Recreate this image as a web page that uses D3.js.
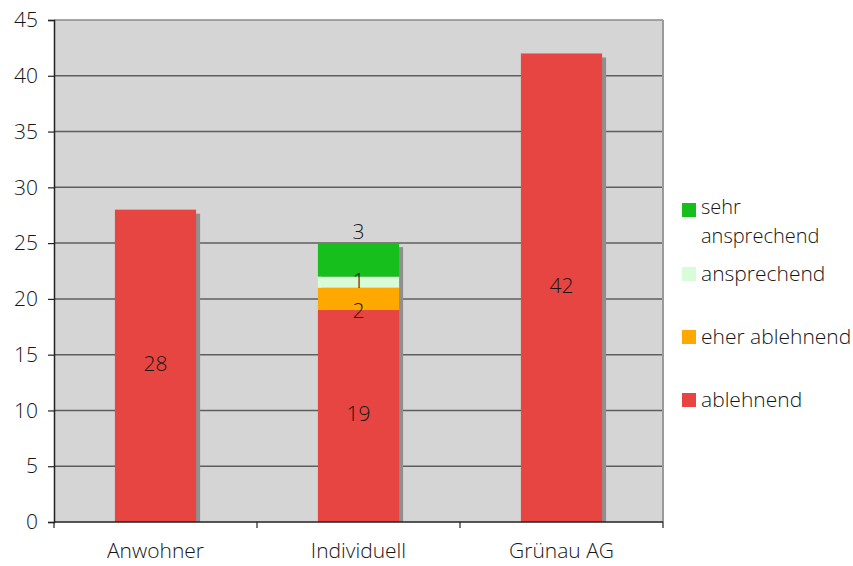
<!DOCTYPE html>
<html>
<head>
<meta charset="utf-8">
<script src="https://cdn.jsdelivr.net/npm/d3@7"></script>
<style>
  html, body { margin: 0; padding: 0; background: #ffffff; }
  svg { display: block; font-family: "Open Sans", "Liberation Sans", sans-serif; font-weight: 300; }
</style>
</head>
<body>
<svg id="chart" width="853" height="566"></svg>
<script>
// Survey answers per group, stacked from the bottom up
const categories = ["Anwohner", "Individuell", "Grünau AG"];
const seriesNames = ["ablehnend", "eher ablehnend", "ansprechend", "sehr ansprechend"];
const ablehnend = [28, 19, 42];
const eherAblehnend = [0, 2, 0];
const ansprechend = [0, 1, 0];
const sehrAnsprechend = [0, 3, 0];
const yTicks = [0, 5, 10, 15, 20, 25, 30, 35, 40, 45];
const seriesColors = ["#e64541", "#ffa800", "#d8fbd8", "#17bf1c"];

const seriesValues = [ablehnend, eherAblehnend, ansprechend, sehrAnsprechend];

const FONT = "'Open Sans', 'Liberation Sans', sans-serif";
const FS = 21;
const TEXT = "#161616";

const svg = d3.select("#chart");
const plot = { left: 54, right: 663, top: 20, bottom: 522 };

const x = d3.scaleBand().domain(categories).range([plot.left, plot.right]).paddingInner(0.6).paddingOuter(0.3);
const xOuter = d3.scaleBand().domain(categories).range([plot.left, plot.right]);
const y = d3.scaleLinear().domain([0, 45]).range([plot.bottom, plot.top]);

// plot background
svg.append("rect")
  .attr("x", plot.left).attr("y", plot.top)
  .attr("width", plot.right - plot.left).attr("height", plot.bottom - plot.top)
  .attr("fill", "#d5d5d5");

// horizontal gridlines
svg.append("g").selectAll("line")
  .data(yTicks.filter(t => t > 0 && t < 45))
  .join("line")
  .attr("x1", plot.left).attr("x2", plot.right)
  .attr("y1", d => y(d)).attr("y2", d => y(d))
  .attr("stroke", "#5e5e5e").attr("stroke-width", 1.5);

// plot frame (top and right)
svg.append("line").attr("x1", plot.left).attr("x2", plot.right).attr("y1", plot.top).attr("y2", plot.top)
  .attr("stroke", "#8a8a8a").attr("stroke-width", 1.5);
svg.append("line").attr("x1", plot.right).attr("x2", plot.right).attr("y1", plot.top).attr("y2", plot.bottom)
  .attr("stroke", "#9a9a9a").attr("stroke-width", 2);

// stacked data
const rows = categories.map((c, i) => {
  const r = { category: c };
  seriesNames.forEach((s, k) => { r[s] = seriesValues[k][i]; });
  return r;
});
const stack = d3.stack().keys(seriesNames)(rows);
const totals = rows.map(r => d3.sum(seriesNames, s => r[s]));

// bar shadows
svg.append("g").selectAll("rect")
  .data(rows)
  .join("rect")
  .attr("x", d => x(d.category) + 4)
  .attr("y", (d, i) => y(totals[i]) + 4)
  .attr("width", x.bandwidth())
  .attr("height", (d, i) => y(0) - y(totals[i]) - 4)
  .attr("fill", "#8f8f8f");

// bar segments
stack.forEach((layer, k) => {
  svg.append("g").selectAll("rect")
    .data(layer.filter(d => d[1] - d[0] > 0))
    .join("rect")
    .attr("x", d => x(d.data.category))
    .attr("y", d => y(d[1]))
    .attr("width", x.bandwidth())
    .attr("height", d => y(d[0]) - y(d[1]))
    .attr("fill", seriesColors[k]);
});

// value labels; thin segments get nudged so the numbers don't collide
const labelNudge = { "ablehnend": -2, "eher ablehnend": 12, "ansprechend": -2, "sehr ansprechend": -28 };
stack.forEach((layer, k) => {
  const name = seriesNames[k];
  svg.append("g").selectAll("text")
    .data(layer.filter(d => d[1] - d[0] > 0))
    .join("text")
    .attr("x", d => x(d.data.category) + x.bandwidth() / 2)
    .attr("y", d => y((d[0] + d[1]) / 2) + (labelNudge[name] || 0))
    .attr("dy", "0.35em")
    .attr("text-anchor", "middle")
    .attr("font-family", FONT).attr("font-weight", 300)
    .attr("font-size", FS)
    .attr("fill", TEXT)
    .text(d => d[1] - d[0]);
});

// y axis
const yAxis = svg.append("g")
  .attr("transform", `translate(${plot.left},0)`)
  .call(d3.axisLeft(y).tickValues(yTicks).tickSize(6).tickPadding(10).tickFormat(d3.format("d")));
yAxis.select(".domain").attr("stroke", "#222").attr("stroke-width", 1.5);
yAxis.selectAll(".tick line").attr("stroke", "#222").attr("stroke-width", 1.2);
yAxis.selectAll(".tick text").attr("font-size", FS).attr("fill", TEXT)
  .attr("font-family", FONT).attr("font-weight", 300);

// x axis with ticks between categories
const xAxisG = svg.append("g");
xAxisG.append("line").attr("x1", plot.left).attr("x2", plot.right).attr("y1", plot.bottom).attr("y2", plot.bottom)
  .attr("stroke", "#222").attr("stroke-width", 1.5);
const boundaries = categories.map(c => xOuter(c)).concat([plot.right]);
xAxisG.selectAll("line.tick").data(boundaries).join("line").attr("class", "tick")
  .attr("x1", d => d).attr("x2", d => d).attr("y1", plot.bottom).attr("y2", plot.bottom + 6)
  .attr("stroke", "#222").attr("stroke-width", 1.2);
xAxisG.selectAll("text").data(categories).join("text")
  .attr("x", d => xOuter(d) + xOuter.bandwidth() / 2)
  .attr("y", 558)
  .attr("text-anchor", "middle")
  .attr("font-family", FONT).attr("font-weight", 300)
  .attr("font-size", FS)
  .attr("fill", TEXT)
  .text(d => d);

// legend, top entry first
const legendItems = [
  { name: ["sehr", "ansprechend"], color: seriesColors[3], top: 203 },
  { name: ["ansprechend"], color: seriesColors[2], top: 267 },
  { name: ["eher ablehnend"], color: seriesColors[1], top: 330 },
  { name: ["ablehnend"], color: seriesColors[0], top: 393 }
];
const legend = svg.append("g");
legendItems.forEach(it => {
  legend.append("rect").attr("x", 682).attr("y", it.top).attr("width", 14).attr("height", 14).attr("fill", it.color);
  const multi = it.name.length > 1;
  // multi-line entries are split into separate text elements
  it.name.forEach((line, j) => {
    legend.append("text")
      .attr("x", 701).attr("y", multi ? it.top + 11 + j * 29 : it.top + 14)
      .attr("font-family", FONT).attr("font-weight", 300)
      .attr("font-size", multi ? FS - 1 : FS)
      .attr("fill", TEXT)
      .text(line);
  });
});
</script>
</body>
</html>
